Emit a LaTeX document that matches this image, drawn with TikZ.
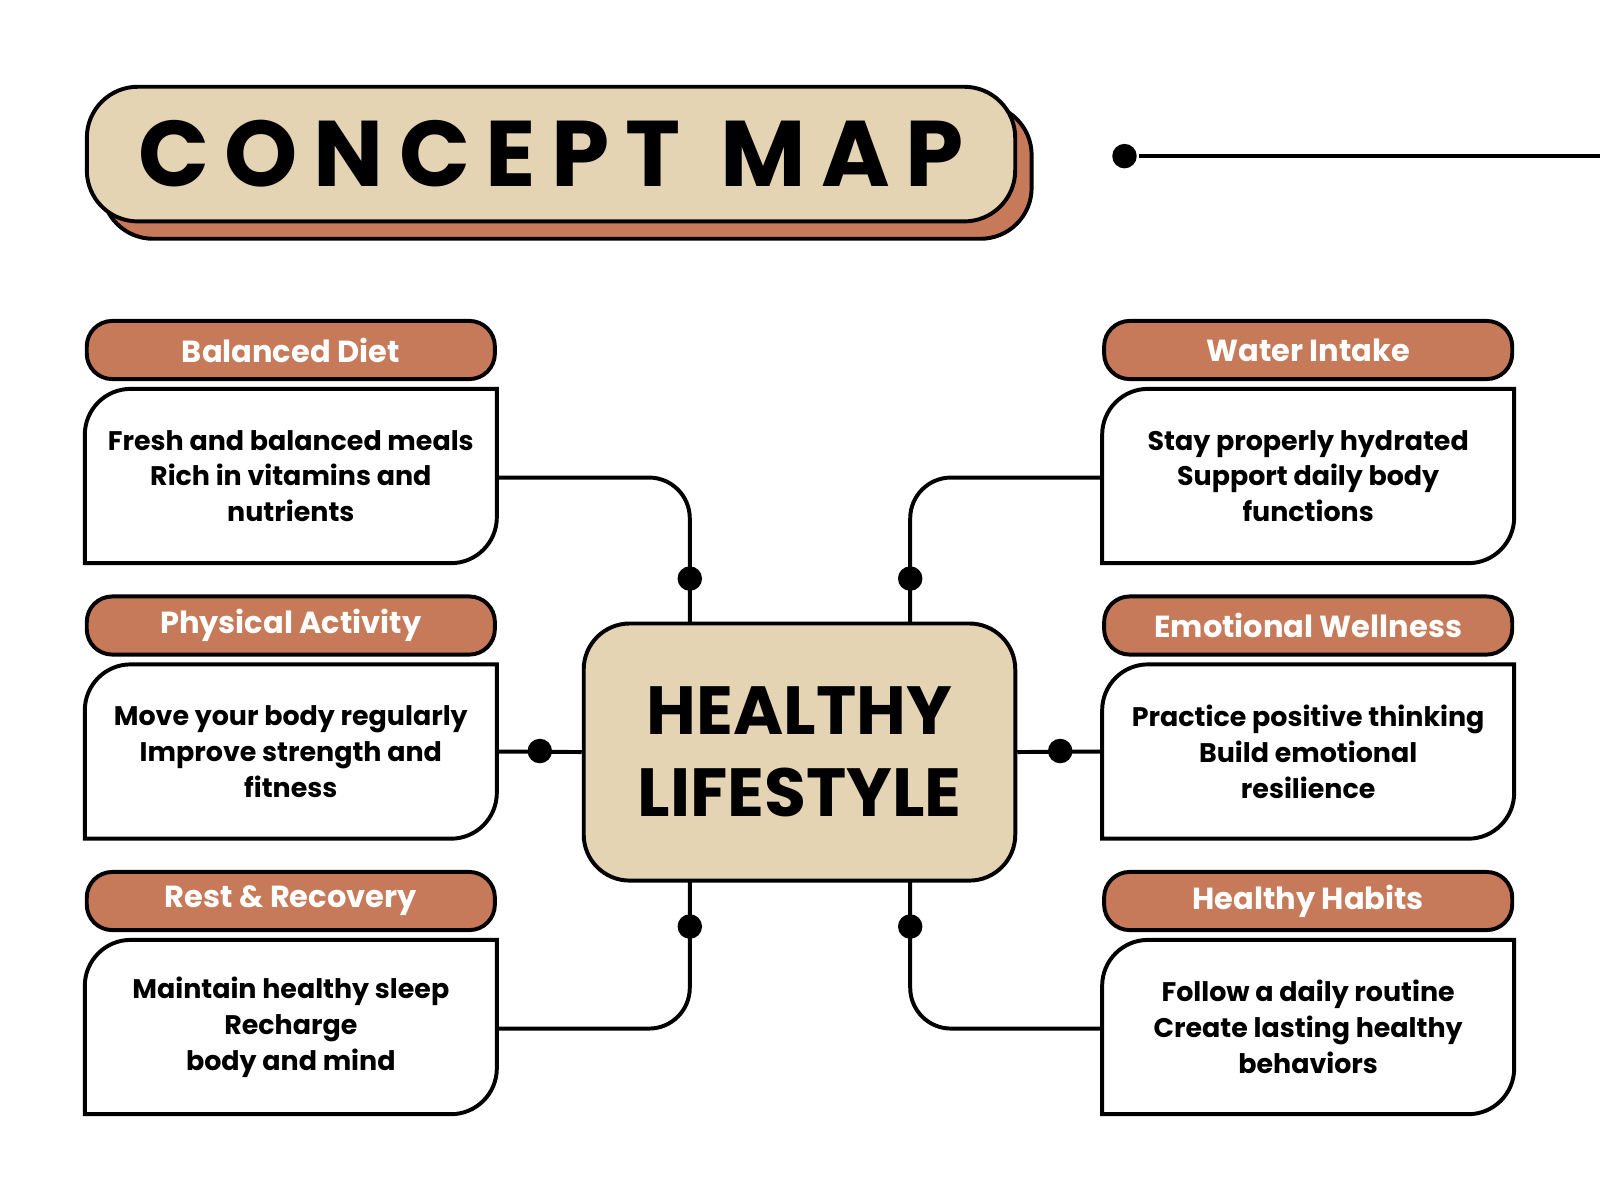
\documentclass[tikz,border=0pt]{standalone}
\usepackage{fontspec}
\setmainfont{Poppins}
\usetikzlibrary{positioning,calc}
\definecolor{terra}{HTML}{C77A5A}
\definecolor{sand}{HTML}{E5D4B4}
\tikzset{
  every path/.style={line width=2.2pt},
  head/.style={draw, fill=terra, rounded corners=0.5cm, minimum width=8cm, minimum height=1.14cm,
    text=white, font=\fontsize{17}{17}\selectfont\bfseries},
  body/.style={minimum width=8cm, minimum height=3.34cm, align=center,
    font=\fontsize{15}{20}\selectfont\bfseries},
  dot/.style={circle, fill, inner sep=0pt, minimum size=0.48cm},
  link/.style={rounded corners=0.8cm}
}
\newcommand{\bodybox}[1]{%
  \draw (#1.south west) [rounded corners=0.9cm] -- (#1.north west) [sharp corners] -- (#1.north east)
    [rounded corners=0.9cm] -- (#1.south east) [sharp corners] -- cycle;}
\begin{document}
\begin{tikzpicture}[x=0.02cm, y=-0.02cm]
  \useasboundingbox (0,0) rectangle (1568,1176);
  % title
  \draw[fill=terra, rounded corners=1cm] (100,102) rectangle (1011,234);
  \node[draw, fill=sand, rounded corners=1cm, minimum width=18.2cm, minimum height=2.64cm,
    font=\fontsize{52}{52}\selectfont\bfseries] (title) at (540,151) {C\,O\,N\,C\,E\,P\,T\ \ M\,A\,P};
  \node[dot] (tdot) at (1102,153) {};
  \coordinate (tend) at (1568,153);
  \draw (tdot) -- (tend);
  % centre
  \node[draw, fill=sand, rounded corners=0.9cm, minimum width=8.46cm, minimum height=5.04cm,
    align=center, font=\fontsize{38}{46}\selectfont\bfseries] (hl) at (783.5,737) {HEALTHY\\LIFESTYLE};
  % left column
  \node[head] (h1) at (285,343) {Balanced Diet};
  \node[body] (b1) at (285,466.5) {Fresh and balanced meals\\Rich in vitamins and\\nutrients};
  \node[head] (h2) at (285,613) {Physical Activity};
  \node[body] (b2) at (285,736.5) {Move your body regularly\\Improve strength and\\fitness};
  \node[head] (h3) at (285,883) {Rest \& Recovery};
  \node[body] (b3) at (285,1006.5) {Maintain healthy sleep\\Recharge\\body and mind};
  % right column
  \node[head] (h4) at (1282,343) {Water Intake};
  \node[body] (b4) at (1282,466.5) {Stay properly hydrated\\Support daily body\\functions};
  \node[head] (h5) at (1282,613) {Emotional Wellness};
  \node[body] (b5) at (1282,736.5) {Practice positive thinking\\Build emotional\\resilience};
  \node[head] (h6) at (1282,883) {Healthy Habits};
  \node[body] (b6) at (1282,1006.5) {Follow a daily routine\\Create lasting healthy\\behaviors};
  \foreach \b in {b1,b2,b3,b4,b5,b6}{\bodybox{\b}}
  % links
  \coordinate (c1) at (676,611);
  \coordinate (c3) at (676,863);
  \coordinate (c4) at (892,611);
  \coordinate (c6) at (892,863);
  \draw[link] (b1.east |- 0,468) -| (c1);
  \draw[link] (b3.east |- 0,1008) -| (c3);
  \draw[link] (b4.west |- 0,468) -| (c4);
  \draw[link] (b6.west |- 0,1008) -| (c6);
  \draw (b2.east) -- (hl.west);
  \draw (b5.west) -- (hl.east);
  \node[dot] (d1) at (676,567) {};
  \node[dot] (d3) at (676,908) {};
  \node[dot] (d4) at (892,567) {};
  \node[dot] (d6) at (892,908) {};
  \node[dot] (d2) at (529,736) {};
  \node[dot] (d5) at (1039,736) {};
\end{tikzpicture}
\end{document}
